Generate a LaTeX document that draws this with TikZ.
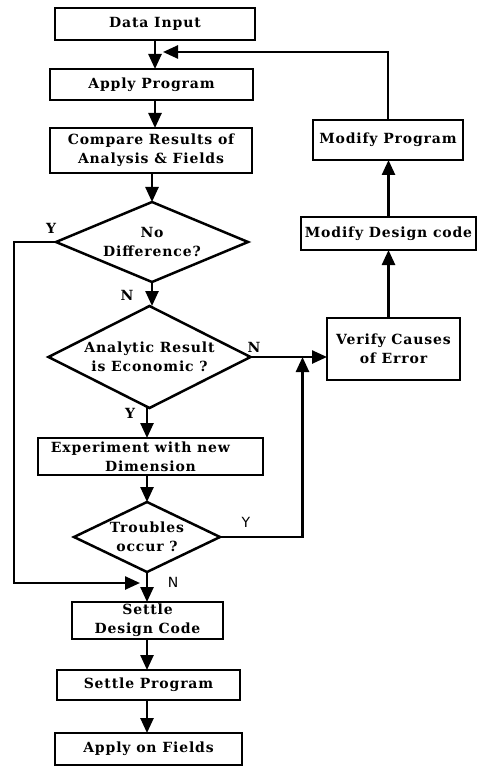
\documentclass[tikz,border=0pt]{standalone}
\usepackage{fontspec}
\newfontfamily\chartfont{DejaVu Serif}[LetterSpace=6]
\newfontfamily\tagsans{DejaVu Sans}
\usetikzlibrary{arrows.meta,shapes.geometric}

\begin{document}
\begin{tikzpicture}[x=1pt,y=-1pt,
  every node/.style={inner sep=0pt, outer sep=0pt},
  txt/.style={font=\chartfont\bfseries\fontsize{14}{19}\selectfont, align=center},
  box/.style={txt, draw, line width=2.5pt},
  decision/.style={txt, draw, line width=2.5pt, shape=diamond, inner sep=-6pt},
  link/.style={line width=2.5pt},
  flow/.style={link, -{Triangle[length=15pt,width=13pt]}},
  tag/.style={font=\chartfont\bfseries\fontsize{14}{16}\selectfont},
  sanstag/.style={font=\tagsans\fontsize{14}{16}\selectfont}]

\useasboundingbox (0,0) rectangle (478,767);

% main column
\node[box, minimum width=200pt, minimum height=32pt] (din) at (155,24) {Data Input};
\node[box, minimum width=203pt, minimum height=31pt] (app) at (151.5,84.5) {Apply Program};
\node[box, minimum width=202pt, minimum height=45pt] (cmp) at (151,150.5) {Compare Results of\\Analysis \& Fields};
\node[decision, aspect=2.4, minimum width=192pt, minimum height=80pt] (d1) at (152,242) {No\\Difference?};
\node[decision, aspect=2, minimum width=202pt, minimum height=102pt] (d2) at (149.5,357) {Analytic Result\\is Economic ?};
\node[box, minimum width=225pt, minimum height=37pt] (exp) at (150.5,456.5) {Experiment with new\hspace*{20pt}\\Dimension};
\node[decision, aspect=2.1, minimum width=146pt, minimum height=70pt] (d3) at (147,537) {Troubles\\occur ?};
\node[box, minimum width=151pt, minimum height=37pt] (sdc) at (147.5,620.5) {Settle\\Design Code};
\node[box, minimum width=183pt, minimum height=30pt] (sp) at (148.5,685) {Settle Program};
\node[box, minimum width=187pt, minimum height=32pt] (aof) at (148.5,749) {Apply on Fields};

% right column
\node[box, minimum width=150pt, minimum height=40pt] (mp) at (388,140) {Modify Program};
\node[box, minimum width=175pt, minimum height=33pt] (mdc) at (388.5,233.5) {Modify Design code};
\node[box, minimum width=133pt, minimum height=62pt] (vce) at (393.5,349) {Verify Causes\\of Error};

% branch labels
\node[tag] (ly1) at (51,228) {Y};
\node[tag] (ln1) at (127,295) {N};
\node[tag] (ln2) at (254,347) {N};
\node[tag] (ly2) at (130,413) {Y};
\node[sanstag] (ly3) at (246,522) {Y};
\node[sanstag] (ln3) at (173,582) {N};

% helper points
\coordinate (fbtip) at (163,52);
\coordinate (ytip) at (140,583);
\path (d2.east) ++(52,0) coordinate (jn);

% main flow
\draw[flow] (din.south) -- (din.south |- app.north);
\draw[flow] (din.south |- app.south) -- (din.south |- cmp.north);
\draw[flow] (d1.north |- cmp.south) -- (d1.north);
\draw[flow] (d1.south) -- (d1.south |- d2.north);
\draw[flow] (d3.north |- d2.south) -- (d3.north |- exp.north);
\draw[flow] (d3.north |- exp.south) -- (d3.north);
\draw[flow] (d3.south) -- (d3.south |- sdc.north);
\draw[flow] (d3.south |- sdc.south) -- (d3.south |- sp.north);
\draw[flow] (d3.south |- sp.south) -- (d3.south |- aof.north);

% "Y" bypass from the first decision
\draw[flow] (d1.west) -- ++(-42,0) |- (ytip);

% error branch
\draw[flow] (d2.east) -- (d2.east -| vce.west);
\draw[flow] (d3.east) -| (jn);
\draw[flow] (mdc.north |- vce.north) -- (mdc.south);
\draw[flow] (mdc.north) -- (mdc.north |- mp.south);
\draw[flow] (mp.north) |- (fbtip);
\end{tikzpicture}
\end{document}
